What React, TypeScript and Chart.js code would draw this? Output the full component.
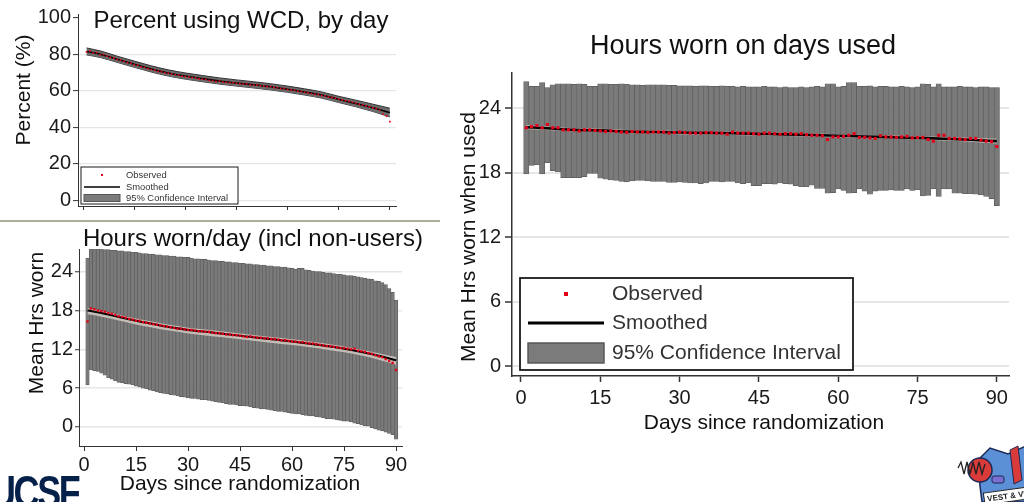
import React, { useEffect, useRef } from "react";
import { Chart, registerables } from "chart.js";

Chart.register(...registerables);

const FONT = '"Liberation Sans", Arial, Helvetica, sans-serif';

// ---------------- DATA ----------------
const DAYS = [
  1, 2, 3, 4, 5, 6, 7, 8, 9, 10, 11, 12, 13, 14, 15, 16, 17, 18, 19, 20,
  21, 22, 23, 24, 25, 26, 27, 28, 29, 30, 31, 32, 33, 34, 35, 36, 37, 38, 39, 40,
  41, 42, 43, 44, 45, 46, 47, 48, 49, 50, 51, 52, 53, 54, 55, 56, 57, 58, 59, 60,
  61, 62, 63, 64, 65, 66, 67, 68, 69, 70, 71, 72, 73, 74, 75, 76, 77, 78, 79, 80,
  81, 82, 83, 84, 85, 86, 87, 88, 89, 90,
];
const KNOT_DAYS = [1, 5, 10, 15, 20, 25, 30, 35, 40, 45, 50, 55, 60, 65, 70, 75, 80, 85, 90];
const X_TICKS = [0, 15, 30, 45, 60, 75, 90];
const PCT_TICKS = [0, 20, 40, 60, 80, 100];
const PCT_GRID = [0, 20, 40, 60, 80];
const HRS_TICKS = [0, 6, 12, 18, 24];
const LEGEND_LABELS = ["Observed", "Smoothed", "95% Confidence Interval"];

const TITLE_PCT = "Percent using WCD, by day";
const TITLE_ALL = "Hours worn/day (incl non-users)";
const TITLE_USED = "Hours worn on days used";
const Y_TITLE_PCT = "Percent (%)";
const Y_TITLE_ALL = "Mean Hrs worn";
const Y_TITLE_USED = "Mean Hrs worn when used";
const X_TITLE = "Days since randomization";

// Percent using WCD
const PCT_OBSERVED = [
  81.2, 81.8, 80.6, 80.9, 79.7, 79.8, 78.9, 78.2, 77.9, 77.0,
  76.8, 76.1, 75.4, 75.0, 74.2, 73.9, 73.0, 72.8, 72.1, 71.6,
  71.3, 70.6, 70.4, 69.8, 69.5, 69.2, 68.7, 68.5, 68.0, 67.8,
  67.6, 67.1, 67.0, 66.4, 66.3, 66.1, 65.6, 65.5, 65.0, 65.2,
  64.7, 64.6, 64.3, 64.4, 64.0, 63.9, 63.6, 63.8, 63.2, 63.1,
  63.0, 62.7, 62.6, 62.2, 62.3, 61.8, 61.6, 61.1, 61.2, 60.6,
  60.4, 60.2, 59.8, 59.5, 59.1, 58.9, 58.4, 58.0, 57.9, 57.3,
  57.1, 56.5, 56.3, 55.9, 55.3, 55.0, 54.4, 54.1, 53.6, 53.1,
  52.6, 52.2, 51.7, 51.1, 50.6, 50.2, 49.3, 47.1, 46.0, 43.0,
];
const PCT_SMOOTH = [81.5, 80.0, 77.2, 74.5, 71.9, 69.7, 68.0, 66.6, 65.3, 64.2, 63.2, 62.1, 60.8, 59.3, 57.6, 55.2, 53.0, 50.6, 48.0];
const PCT_CI_LO = [79.6, 78.2, 75.5, 72.8, 70.2, 68.0, 66.3, 64.9, 63.6, 62.5, 61.5, 60.4, 59.1, 57.6, 55.9, 53.5, 51.2, 48.6, 45.6];
const PCT_CI_HI = [83.4, 81.8, 78.9, 76.2, 73.6, 71.4, 69.7, 68.3, 67.0, 65.9, 64.9, 63.8, 62.5, 61.0, 59.3, 56.9, 54.8, 52.6, 50.4];

// Hours worn per day incl non-users
const ALL_OBSERVED = [
  16.3, 18.3, 18.2, 18.0, 17.9, 17.8, 17.6, 17.5, 17.3, 17.1,
  17.0, 16.9, 16.7, 16.6, 16.4, 16.4, 16.2, 16.1, 16.0, 15.9,
  15.8, 15.7, 15.6, 15.5, 15.4, 15.3, 15.2, 15.2, 15.1, 15.0,
  15.0, 14.9, 14.8, 14.8, 14.7, 14.7, 14.6, 14.5, 14.5, 14.4,
  14.3, 14.3, 14.2, 14.2, 14.1, 14.0, 13.9, 14.0, 13.9, 13.8,
  13.8, 13.7, 13.7, 13.6, 13.6, 13.5, 13.4, 13.4, 13.3, 13.2,
  13.2, 13.1, 13.1, 13.0, 12.9, 12.9, 12.8, 12.7, 12.6, 12.5,
  12.5, 12.4, 12.3, 12.2, 12.2, 12.1, 12.0, 12.1, 11.8, 11.7,
  11.6, 11.4, 11.3, 11.1, 10.9, 10.8, 10.5, 10.2, 9.9, 8.8,
];
const ALL_SMOOTH = [18.0, 17.6, 17.0, 16.4, 15.9, 15.4, 15.0, 14.7, 14.4, 14.1, 13.8, 13.5, 13.2, 12.85, 12.5, 12.1, 11.6, 11.0, 10.3];
const ALL_CI_LO = [17.4, 17.05, 16.45, 15.85, 15.35, 14.85, 14.45, 14.15, 13.85, 13.55, 13.25, 12.95, 12.65, 12.3, 11.95, 11.55, 11.05, 10.4, 9.6];
const ALL_CI_HI = [18.4, 17.95, 17.35, 16.75, 16.25, 15.75, 15.35, 15.05, 14.75, 14.45, 14.15, 13.85, 13.55, 13.2, 12.85, 12.45, 11.95, 11.4, 10.8];
const ALL_BAR_HI = [
  26.1, 27.5, 27.6, 27.5, 27.5, 27.4, 27.4, 27.3, 27.3, 27.2,
  27.2, 27.1, 27.1, 27.0, 27.0, 26.9, 26.8, 26.8, 26.7, 26.7,
  26.6, 26.6, 26.5, 26.5, 26.4, 26.4, 26.3, 26.3, 26.2, 26.2,
  26.1, 26.0, 26.0, 25.9, 25.9, 25.8, 25.7, 25.7, 25.6, 25.6,
  25.5, 25.5, 25.4, 25.4, 25.3, 25.3, 25.2, 25.2, 25.1, 25.1,
  25.0, 25.0, 24.9, 24.9, 24.8, 24.8, 24.7, 24.7, 24.6, 24.5,
  24.4, 24.5, 24.5, 24.3, 24.2, 24.1, 24.0, 24.0, 23.9, 23.8,
  23.8, 23.7, 23.6, 23.6, 23.5, 23.4, 23.4, 23.3, 23.2, 23.1,
  23.0, 22.9, 22.8, 22.6, 22.5, 22.3, 22.0, 21.4, 20.8, 19.6,
];
const ALL_BAR_LO = [
  6.5, 8.8, 8.7, 8.6, 8.3, 8.0, 7.6, 7.4, 7.1, 6.9,
  6.8, 6.7, 6.6, 6.5, 6.3, 6.2, 6.0, 5.9, 5.7, 5.6,
  5.4, 5.3, 5.2, 5.1, 5.0, 4.9, 4.8, 4.7, 4.6, 4.5,
  4.4, 4.4, 4.3, 4.2, 4.2, 4.1, 4.0, 3.9, 3.8, 3.7,
  3.6, 3.5, 3.5, 3.4, 3.3, 3.3, 3.2, 3.1, 3.0, 2.9,
  2.8, 2.8, 2.7, 2.6, 2.5, 2.4, 2.4, 2.3, 2.2, 2.1,
  2.0, 2.0, 1.9, 1.8, 1.7, 1.7, 1.6, 1.5, 1.4, 1.3,
  1.3, 1.2, 1.1, 1.0, 0.9, 0.9, 0.8, 0.6, 0.5, 0.3,
  0.2, 0.0, -0.1, -0.3, -0.5, -0.6, -0.8, -1.0, -1.2, -1.9,
];

// Hours worn on days used
const USED_OBSERVED = [
  22.2, 22.3, 22.4, 22.2, 22.5, 22.2, 22.2, 22.0, 22.0, 22.0,
  21.9, 22.0, 22.0, 21.95, 21.9, 21.85, 21.9, 21.85, 21.8, 21.75,
  21.85, 21.8, 21.8, 21.75, 21.8, 21.8, 21.8, 21.7, 21.75, 21.8,
  21.75, 21.7, 21.7, 21.7, 21.75, 21.75, 21.7, 21.7, 21.6, 21.8,
  21.7, 21.7, 21.7, 21.65, 21.6, 21.7, 21.7, 21.65, 21.6, 21.65,
  21.65, 21.6, 21.65, 21.55, 21.5, 21.5, 21.45, 21.1, 21.35, 21.35,
  21.4, 21.5, 21.65, 21.3, 21.3, 21.25, 21.2, 21.45, 21.35, 21.35,
  21.3, 21.35, 21.4, 21.25, 21.3, 21.3, 21.1, 20.95, 21.5, 21.5,
  21.2, 21.2, 21.15, 21.1, 21.2, 21.2, 21.05, 20.95, 20.9, 20.45,
];
const USED_SMOOTH = [22.25, 22.15, 22.0, 21.95, 21.85, 21.8, 21.75, 21.72, 21.68, 21.63, 21.58, 21.52, 21.45, 21.38, 21.32, 21.25, 21.18, 21.08, 20.95];
const USED_CI_LO = [22.05, 21.98, 21.85, 21.8, 21.7, 21.65, 21.6, 21.57, 21.53, 21.48, 21.43, 21.37, 21.3, 21.23, 21.17, 21.1, 21.02, 20.9, 20.72];
const USED_CI_HI = [22.45, 22.32, 22.15, 22.1, 22.0, 21.95, 21.9, 21.87, 21.83, 21.78, 21.73, 21.67, 21.6, 21.53, 21.47, 21.4, 21.34, 21.26, 21.18];
const USED_BAR_HI = [
  26.5, 26.05, 26.05, 26.4, 25.95, 26.2, 26.3, 26.3, 26.3, 26.25,
  26.3, 26.25, 26.05, 26.05, 26.3, 26.3, 26.25, 26.25, 26.3, 26.25,
  26.2, 26.2, 26.15, 26.2, 26.2, 26.2, 26.2, 26.15, 26.15, 26.1,
  26.1, 26.1, 26.05, 26.1, 26.1, 26.05, 26.05, 26.1, 26.05, 26.05,
  26.0, 26.05, 26.0, 26.0, 26.0, 26.05, 26.0, 26.0, 25.95, 26.0,
  25.95, 25.95, 26.0, 25.95, 26.0, 26.05, 26.0, 26.3, 26.3, 26.0,
  26.05, 26.4, 26.4, 26.05, 26.05, 26.1, 26.0, 26.05, 26.05, 26.0,
  26.0, 26.05, 26.0, 25.95, 26.0, 26.3, 26.25, 26.0, 26.3, 26.0,
  26.0, 26.0, 26.05, 26.0, 26.0, 25.95, 26.0, 26.0, 25.95, 25.95,
];
const USED_BAR_LO = [
  17.9, 18.7, 18.75, 17.9, 18.95, 18.2, 18.1, 17.55, 17.55, 17.55,
  17.55, 17.65, 17.95, 17.95, 17.5, 17.4, 17.35, 17.3, 17.2, 17.15,
  17.25, 17.3, 17.3, 17.25, 17.2, 17.2, 17.2, 17.1, 17.1, 17.15,
  17.1, 17.05, 17.05, 17.0, 17.05, 17.2, 17.2, 17.15, 17.2, 17.2,
  17.05, 17.0, 17.05, 16.8, 16.8, 17.0, 17.0, 16.95, 17.05, 17.0,
  16.95, 16.8, 16.7, 16.7, 16.85, 16.55, 16.55, 16.1, 16.15, 16.5,
  16.35, 16.1, 16.15, 16.5, 16.3, 16.0, 16.3, 16.35, 16.35, 16.4,
  16.35, 16.35, 16.5, 16.35, 16.4, 15.85, 15.9, 16.5, 15.8, 16.5,
  16.5, 16.1, 16.1, 16.05, 16.05, 16.0, 15.95, 15.8, 15.6, 14.95,
];

// ---------------- HELPERS ----------------
type TextItem = { text: string; x: number; y: number; size: number; rotate?: boolean; color?: string };
type LegendSpec = {
  x: number; y: number; w: number; h: number; border: number;
  rows: number[]; symX0: number; symX1: number; dotX: number; textX: number;
  size: number; dot: number; line: number; rectH: number;
};
type Spec = {
  box: { left: number; top: number; width: number; height: number };
  area: { left: number; top: number; right: number; bottom: number };
  xRange: [number, number];
  yRange: [number, number];
  yTicks: number[];
  gridValues: number[];
  showXLabels: boolean;
  tickSize: number;
  yTickLen: number; yTickPad: number;
  xTickLen: number; xTickPad: number;
  axisWidth: number; gridWidth: number;
  datasets: any[];
  texts: TextItem[];
  legend: LegendSpec | null;
};

function pts(xs: number[], ys: number[]) {
  return xs.map((x, i) => ({ x, y: ys[i] }));
}

function makeDatasets(o: {
  observed: number[]; smooth: number[]; lo: number[]; hi: number[];
  barLo?: number[]; barHi?: number[];
  bandFill: string; bandBorder: string; bandBorderWidth: number;
  lineWidth: number; dotRadius: number;
}) {
  const ds: any[] = [];
  if (o.barLo && o.barHi) {
    const bl = o.barLo, bh = o.barHi;
    ds.push({
      type: "bar",
      label: "bars",
      data: DAYS.map((d, i) => ({ x: d, y: [bl[i], bh[i]] })),
      backgroundColor: "#7a7a7a",
      borderColor: "#5c5c5c",
      borderWidth: 0.7,
      borderSkipped: false,
      barPercentage: 1,
      categoryPercentage: 1,
      order: 5,
    });
  }
  ds.push({
    type: "line",
    label: "ci-lo",
    data: pts(KNOT_DAYS, o.lo),
    borderColor: o.bandBorder,
    borderWidth: o.bandBorderWidth,
    pointRadius: 0,
    fill: false,
    cubicInterpolationMode: "monotone",
    order: 4,
  });
  ds.push({
    type: "line",
    label: "ci-hi",
    data: pts(KNOT_DAYS, o.hi),
    borderColor: o.bandBorder,
    borderWidth: o.bandBorderWidth,
    backgroundColor: o.bandFill,
    pointRadius: 0,
    fill: "-1",
    cubicInterpolationMode: "monotone",
    order: 3,
  });
  ds.push({
    type: "line",
    label: LEGEND_LABELS[1],
    data: pts(KNOT_DAYS, o.smooth),
    borderColor: "#000000",
    borderWidth: o.lineWidth,
    pointRadius: 0,
    fill: false,
    cubicInterpolationMode: "monotone",
    order: 1,
  });
  ds.push({
    type: "scatter",
    label: LEGEND_LABELS[0],
    data: pts(DAYS, o.observed),
    pointStyle: "rect",
    pointRadius: o.dotRadius,
    pointBackgroundColor: "#e5001a",
    pointBorderColor: "#e5001a",
    pointBorderWidth: 0,
    showLine: false,
    order: 0,
  });
  return ds;
}

function drawOverlay(ctx: CanvasRenderingContext2D, spec: Spec) {
  ctx.save();
  for (const t of spec.texts) {
    ctx.save();
    ctx.font = `${t.size}px ${FONT}`;
    ctx.fillStyle = t.color || "#111111";
    ctx.textAlign = "center";
    ctx.textBaseline = "middle";
    ctx.translate(t.x, t.y);
    if (t.rotate) ctx.rotate(-Math.PI / 2);
    ctx.fillText(t.text, 0, 0);
    ctx.restore();
  }
  const lg = spec.legend;
  if (lg) {
    ctx.fillStyle = "#ffffff";
    ctx.fillRect(lg.x, lg.y, lg.w, lg.h);
    ctx.strokeStyle = "#1a1a1a";
    ctx.lineWidth = lg.border;
    ctx.strokeRect(lg.x, lg.y, lg.w, lg.h);
    // observed
    ctx.fillStyle = "#e5001a";
    ctx.fillRect(lg.dotX - lg.dot / 2, lg.rows[0] - lg.dot / 2, lg.dot, lg.dot);
    // smoothed
    ctx.strokeStyle = "#000000";
    ctx.lineWidth = lg.line;
    ctx.beginPath();
    ctx.moveTo(lg.symX0, lg.rows[1]);
    ctx.lineTo(lg.symX1, lg.rows[1]);
    ctx.stroke();
    // CI
    ctx.fillStyle = "#7b7b7b";
    ctx.fillRect(lg.symX0, lg.rows[2] - lg.rectH / 2, lg.symX1 - lg.symX0, lg.rectH);
    ctx.strokeStyle = "#555555";
    ctx.lineWidth = Math.max(1, lg.border * 0.8);
    ctx.strokeRect(lg.symX0, lg.rows[2] - lg.rectH / 2, lg.symX1 - lg.symX0, lg.rectH);
    ctx.font = `${lg.size}px ${FONT}`;
    ctx.fillStyle = "#333333";
    ctx.textAlign = "left";
    ctx.textBaseline = "middle";
    LEGEND_LABELS.forEach((lbl, i) => ctx.fillText(lbl, lg.textX, lg.rows[i] + 0.5));
  }
  ctx.restore();
}

// ---------------- SPECS ----------------
const SPEC_PCT: Spec = {
  box: { left: 0, top: 0, width: 440, height: 220 },
  area: { left: 78, top: 13, right: 396, bottom: 209 },
  xRange: [-1.5, 91.8],
  yRange: [-3.2, 102],
  yTicks: PCT_TICKS,
  gridValues: PCT_GRID,
  showXLabels: false,
  tickSize: 20,
  yTickLen: 5, yTickPad: 2,
  xTickLen: 4, xTickPad: 2,
  axisWidth: 1, gridWidth: 1.2,
  datasets: makeDatasets({
    observed: PCT_OBSERVED, smooth: PCT_SMOOTH, lo: PCT_CI_LO, hi: PCT_CI_HI,
    bandFill: "#6b6b6b", bandBorder: "#333333", bandBorderWidth: 1,
    lineWidth: 1.6, dotRadius: 1.2,
  }),
  texts: [
    { text: TITLE_PCT, x: 241, y: 21, size: 24 },
    { text: Y_TITLE_PCT, x: 24, y: 90, size: 21, rotate: true },
  ],
  legend: {
    x: 81, y: 167, w: 157, h: 37, border: 1,
    rows: [175, 187, 198], symX0: 84, symX1: 120, dotX: 102, textX: 126,
    size: 9.4, dot: 2, line: 1.4, rectH: 7,
  },
};

const SPEC_ALL: Spec = {
  box: { left: 0, top: 223, width: 440, height: 279 },
  area: { left: 79, top: 26, right: 402, bottom: 223 },
  xRange: [-1.45, 91.7],
  yRange: [-2.94, 27.5],
  yTicks: HRS_TICKS,
  gridValues: HRS_TICKS,
  showXLabels: true,
  tickSize: 20,
  yTickLen: 4, yTickPad: 2,
  xTickLen: 5, xTickPad: 2,
  axisWidth: 1, gridWidth: 1.5,
  datasets: makeDatasets({
    observed: ALL_OBSERVED, smooth: ALL_SMOOTH, lo: ALL_CI_LO, hi: ALL_CI_HI,
    barLo: ALL_BAR_LO, barHi: ALL_BAR_HI,
    bandFill: "#c2bcb5", bandBorder: "rgba(0,0,0,0)", bandBorderWidth: 0,
    lineWidth: 2, dotRadius: 1.7,
  }),
  texts: [
    { text: TITLE_ALL, x: 253, y: 16, size: 24 },
    { text: Y_TITLE_ALL, x: 37, y: 100, size: 21, rotate: true },
    { text: X_TITLE, x: 240, y: 261, size: 21 },
  ],
  legend: null,
};

const SPEC_USED: Spec = {
  box: { left: 450, top: 0, width: 574, height: 502 },
  area: { left: 62, top: 73, right: 559, bottom: 376 },
  xRange: [-1.7, 92.3],
  yRange: [-0.93, 27.3],
  yTicks: HRS_TICKS,
  gridValues: HRS_TICKS,
  showXLabels: true,
  tickSize: 20,
  yTickLen: 7, yTickPad: 4,
  xTickLen: 6, xTickPad: 4,
  axisWidth: 1.5, gridWidth: 2,
  datasets: makeDatasets({
    observed: USED_OBSERVED, smooth: USED_SMOOTH, lo: USED_CI_LO, hi: USED_CI_HI,
    barLo: USED_BAR_LO, barHi: USED_BAR_HI,
    bandFill: "#c2bcb5", bandBorder: "rgba(0,0,0,0)", bandBorderWidth: 0,
    lineWidth: 2.6, dotRadius: 2.2,
  }),
  texts: [
    { text: TITLE_USED, x: 293, y: 47, size: 27 },
    { text: Y_TITLE_USED, x: 19, y: 237, size: 21, rotate: true },
    { text: X_TITLE, x: 314, y: 423, size: 21 },
  ],
  legend: {
    x: 70, y: 278, w: 333, h: 92, border: 1.8,
    rows: [294, 323, 353], symX0: 78, symX1: 154, dotX: 116, textX: 162,
    size: 21, dot: 4, line: 3, rectH: 20,
  },
};

// ---------------- COMPONENTS ----------------
function ChartPanel({ spec }: { spec: Spec }) {
  const ref = useRef<HTMLCanvasElement>(null);
  useEffect(() => {
    const canvas = ref.current;
    if (!canvas) return;
    const { box, area } = spec;
    const overlay = {
      id: "overlayText",
      afterDraw(chart: any) {
        drawOverlay(chart.ctx, spec);
      },
    };
    const chart = new Chart(canvas, {
      type: "scatter",
      data: { datasets: spec.datasets },
      options: {
        animation: false,
        responsive: false,
        devicePixelRatio: 1,
        events: [],
        layout: {
          padding: { left: 0, top: area.top, right: box.width - area.right, bottom: 0 },
        },
        plugins: {
          legend: { display: false },
          tooltip: { enabled: false },
          title: { display: false },
        },
        scales: {
          x: {
            type: "linear",
            min: spec.xRange[0],
            max: spec.xRange[1],
            offset: false,
            afterBuildTicks: (s: any) => {
              s.ticks = X_TICKS.map((v) => ({ value: v }));
            },
            afterFit: (s: any) => {
              s.height = box.height - area.bottom;
            },
            grid: {
              offset: false,
              drawOnChartArea: false,
              drawTicks: true,
              tickLength: spec.xTickLen,
              tickColor: "#333333",
              tickWidth: spec.axisWidth,
            },
            border: { display: true, color: "#333333", width: spec.axisWidth },
            ticks: {
              display: spec.showXLabels,
              padding: spec.xTickPad,
              maxRotation: 0,
              autoSkip: false,
              color: "#1a1a1a",
              font: { family: FONT, size: spec.tickSize },
            },
          },
          y: {
            type: "linear",
            min: spec.yRange[0],
            max: spec.yRange[1],
            afterBuildTicks: (s: any) => {
              s.ticks = spec.yTicks.map((v) => ({ value: v }));
            },
            afterFit: (s: any) => {
              s.width = area.left;
            },
            grid: {
              color: (c: any) =>
                c.tick && spec.gridValues.includes(c.tick.value) ? "#e6e6e6" : "rgba(0,0,0,0)",
              lineWidth: spec.gridWidth,
              drawTicks: true,
              tickLength: spec.yTickLen,
              tickColor: "#333333",
              tickWidth: spec.axisWidth,
            },
            border: { display: true, color: "#333333", width: spec.axisWidth },
            ticks: {
              padding: spec.yTickPad,
              autoSkip: false,
              color: "#1a1a1a",
              font: { family: FONT, size: spec.tickSize },
            },
          },
        },
      } as any,
      plugins: [overlay],
    });
    return () => chart.destroy();
  }, [spec]);
  return (
    <canvas
      ref={ref}
      width={spec.box.width}
      height={spec.box.height}
      style={{
        position: "absolute",
        left: spec.box.left,
        top: spec.box.top,
        width: spec.box.width,
        height: spec.box.height,
      }}
    />
  );
}

function VestLogo() {
  return (
    <svg
      width={70}
      height={62}
      viewBox="0 0 70 62"
      style={{ position: "absolute", left: 956, top: 440 }}
    >
      <path d="M22 20 L34 8 L52 14 L70 6 L70 62 L26 62 L24 46 Z" fill="#5b8fd6" stroke="#1b2a55" strokeWidth="1.5" />
      <circle cx="24" cy="30" r="12" fill="#d93a3a" stroke="#1b2a55" strokeWidth="1.5" />
      <path d="M2 28 L5 22 L8 34 L11 22 L14 34 L17 22 L20 34 L23 22 L26 34 L29 24" fill="none" stroke="#222" strokeWidth="1.3" />
      <path d="M54 10 L62 6 L66 40 L58 44 Z" fill="#d93a3a" stroke="#1b2a55" strokeWidth="1" />
      <rect x="36" y="36" width="12" height="7" rx="2" fill="#7a6fd0" stroke="#1b2a55" strokeWidth="1" />
      <g transform="rotate(-8 50 56)">
        <rect x="28" y="50" width="44" height="12" fill="#ffffff" stroke="#222" strokeWidth="1" />
        <text x="31" y="59" fontSize="8" fontFamily={FONT} fontWeight="bold" fill="#222">VEST &amp; VEST</text>
      </g>
    </svg>
  );
}

export default function App() {
  return (
    <div
      style={{
        position: "fixed",
        left: 0,
        top: 0,
        width: 1024,
        height: 502,
        overflow: "hidden",
        background: "#ffffff",
      }}
    >
      <ChartPanel spec={SPEC_PCT} />
      <div
        style={{
          position: "absolute",
          left: 0,
          top: 220,
          width: 440,
          height: 2,
          background: "#aeac9c",
        }}
      />
      <ChartPanel spec={SPEC_ALL} />
      <ChartPanel spec={SPEC_USED} />
      <div
        style={{
          position: "absolute",
          left: -10,
          top: 469,
          fontFamily: FONT,
          fontWeight: 900,
          fontSize: 46,
          lineHeight: "46px",
          letterSpacing: -3,
          color: "#052049",
          whiteSpace: "nowrap",
          transform: "scaleX(0.78)",
          transformOrigin: "left top",
        }}
      >
        UCSF
      </div>
      <VestLogo />
    </div>
  );
}
